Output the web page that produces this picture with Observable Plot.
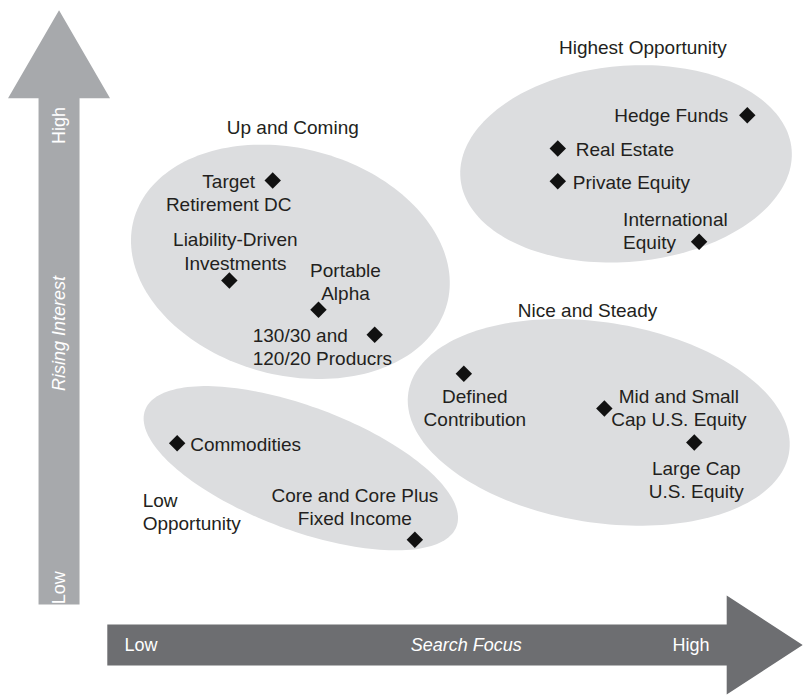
<!DOCTYPE html>
<html><head><meta charset="utf-8">
<script src="https://cdn.jsdelivr.net/npm/d3@7"></script>
<script src="https://cdn.jsdelivr.net/npm/@observablehq/plot@0.6"></script>
<style>body{margin:0;background:#fff}</style>
</head><body><div id="chart"></div>
<script>
// ---- data: investments on a 0–100 Search Focus (x) / Rising Interest (y) plane
const investments = [
  "Target\nRetirement DC", "Liability-Driven\nInvestments", "Portable\nAlpha",
  "130/30 and\n120/20 Producrs", "Hedge Funds", "Real Estate", "Private Equity",
  "International\nEquity", "Defined\nContribution", "Mid and Small\nCap U.S. Equity",
  "Large Cap\nU.S. Equity", "Commodities", "Core and Core Plus\nFixed Income"
];
const searchFocus    = [33.9, 28.5, 39.6, 46.6, 93.0, 69.4, 69.4, 87.0, 57.7, 75.2, 86.4, 22.0, 51.6];
const risingInterest = [74.1, 59.7, 55.5, 51.9, 83.5, 78.7, 74.0, 65.3, 46.3, 41.3, 36.4, 36.3, 22.4];

// ---- groups (ellipses)
const groups       = ["Up and Coming", "Highest Opportunity", "Nice and Steady", "Low\nOpportunity"];
const groupCenterX = [36.1, 77.9, 74.5, 37.4];
const groupCenterY = [62.4, 76.5, 39.3, 32.7];
const groupSpreadX = [20.2, 20.7, 24.0, 20.7];
const groupSpreadY = [16.3, 14.1, 14.4, 8.9];
const groupTilt    = [15, -5, 9, 20.5];
const groupLabelX  = [36.4, 80.0, 73.1, 17.7];
const groupLabelY  = [81.7, 93.2, 55.4, 26.5];

// ---- axis arrows
const axisTitles = ["Search Focus", "Rising Interest"];
const axisTickLabels = ["Low", "High"];

// ---- layout (pixel offsets of labels from their diamonds)
const labelLayout = [
  {anchor: "middle", dx: -44, dy: 11.5},
  {anchor: "middle", dx: 6, dy: -30},
  {anchor: "middle", dx: 27, dy: -29},
  {anchor: "start", dx: -122, dy: 11},
  {anchor: "end", dx: -19, dy: -1},
  {anchor: "start", dx: 18, dy: 0},
  {anchor: "start", dx: 15, dy: 0},
  {anchor: "start", dx: -76, dy: -11.5},
  {anchor: "middle", dx: 11, dy: 33.5},
  {anchor: "middle", dx: 74.5, dy: -1.5},
  {anchor: "middle", dx: 2, dy: 36.5},
  {anchor: "start", dx: 13, dy: 0},
  {anchor: "middle", dx: -60, dy: -34}
];

const W = 803, H = 695;
const X = d3.scaleLinear([0, 100], [0, W]);
const Y = d3.scaleLinear([0, 100], [H, 0]);

const points = investments.map((name, i) => ({name, x: searchFocus[i], y: risingInterest[i], ...labelLayout[i]}));

// ellipse outlines in data space
const ellipsePts = [];
groups.forEach((g, i) => {
  const cx = X(groupCenterX[i]), cy = Y(groupCenterY[i]);
  const a = groupSpreadX[i] * (W / 100), b = groupSpreadY[i] * (H / 100);
  const th = groupTilt[i] * Math.PI / 180;
  for (let k = 0; k < 180; k++) {
    const t = 2 * Math.PI * k / 180;
    const px = cx + a * Math.cos(t) * Math.cos(th) - b * Math.sin(t) * Math.sin(th);
    const py = cy + a * Math.cos(t) * Math.sin(th) + b * Math.sin(t) * Math.cos(th);
    ellipsePts.push({g, x: X.invert(px), y: Y.invert(py)});
  }
});

// arrow polygons (pixel geometry -> data space)
function arrow(x0, y0, x1, y1, shaftHalf, headHalf, headLen, id) {
  const dxp = x1 - x0, dyp = y1 - y0, L = Math.hypot(dxp, dyp);
  const ux = dxp / L, uy = dyp / L, nx = -uy, ny = ux;
  const bx = x1 - ux * headLen, by = y1 - uy * headLen;
  const P = [
    [x0 + nx * shaftHalf, y0 + ny * shaftHalf],
    [bx + nx * shaftHalf, by + ny * shaftHalf],
    [bx + nx * headHalf, by + ny * headHalf],
    [x1, y1],
    [bx - nx * headHalf, by - ny * headHalf],
    [bx - nx * shaftHalf, by - ny * shaftHalf],
    [x0 - nx * shaftHalf, y0 - ny * shaftHalf]
  ];
  return P.map(([px, py]) => ({id, x: X.invert(px), y: Y.invert(py)}));
}
const vArrow = arrow(X(7.29), Y(13.1), X(7.29), Y(98.6), 20.5, 51, 88, "v");
const hArrow = arrow(X(13.3), Y(7.27), X(99.9), Y(7.27), 20.5, 49.5, 76, "h");

const font = "'Liberation Sans', Arial, Helvetica, sans-serif";
const textColor = "#231f20";

const marks = [
  Plot.line(ellipsePts, {x: "x", y: "y", z: "g", curve: "linear-closed", fill: "#dcdddf", stroke: "none"}),
  Plot.line(vArrow, {x: "x", y: "y", curve: "linear-closed", fill: "#a7a9ac", stroke: "none"}),
  Plot.line(hArrow, {x: "x", y: "y", curve: "linear-closed", fill: "#6d6e71", stroke: "none"}),
  // vertical axis labels
  Plot.text([axisTickLabels[1]], {x: 7.29, y: 82.0, text: d => d, rotate: -90, fill: "white", fontSize: 18}),
  Plot.text([axisTitles[1]], {x: 7.29, y: 52.1, text: d => d, rotate: -90, fill: "white", fontSize: 18, fontStyle: "italic"}),
  Plot.text([axisTickLabels[0]], {x: 7.29, y: 15.5, text: d => d, rotate: -90, fill: "white", fontSize: 18}),
  // horizontal axis labels
  Plot.text([axisTickLabels[0]], {x: 15.44, y: 7.2, text: d => d, textAnchor: "start", fill: "white", fontSize: 18}),
  Plot.text([axisTitles[0]], {x: 58.0, y: 7.2, text: d => d, fill: "white", fontSize: 18, fontStyle: "italic"}),
  Plot.text([axisTickLabels[1]], {x: 83.7, y: 7.2, text: d => d, textAnchor: "start", fill: "white", fontSize: 18}),
  // group titles
  Plot.text(groups.slice(0, 3).map((g, i) => ({g, x: groupLabelX[i], y: groupLabelY[i]})),
    {x: "x", y: "y", text: "g", fill: textColor, fontSize: 19}),
  Plot.text([{g: groups[3], x: groupLabelX[3], y: groupLabelY[3]}],
    {x: "x", y: "y", text: "g", textAnchor: "start", lineHeight: 1.22, fill: textColor, fontSize: 19}),
  // diamonds
  Plot.dot(points, {x: "x", y: "y", symbol: "diamond2", r: 7.4, fill: "#111", stroke: "none"}),
  // labels
  ...points.map(p => Plot.text([p], {x: "x", y: "y", text: "name", textAnchor: p.anchor, dx: p.dx, dy: p.dy,
    lineHeight: 1.22, fill: textColor, fontSize: 19}))
];

const chart = Plot.plot({
  width: W, height: H,
  margin: 0,
  x: {domain: [0, 100], range: [0, W], axis: null},
  y: {domain: [0, 100], range: [H, 0], axis: null},
  style: {fontFamily: font, background: "white", overflow: "visible"},
  marks
});
document.getElementById("chart").appendChild(chart);
</script>
</body></html>
